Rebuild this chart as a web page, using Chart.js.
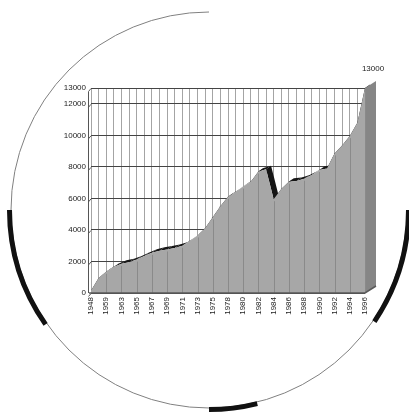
<!DOCTYPE html>
<html>
<head>
<meta charset="utf-8">
<script src="https://cdn.jsdelivr.net/npm/chart.js@4.4.1/dist/chart.umd.min.js"></script>
<style>
  html, body { margin: 0; padding: 0; background: #fff; }
  #wrap { position: relative; width: 409px; height: 416px; }
</style>
</head>
<body>
<div id="wrap"><canvas id="chart"></canvas></div>
<script>
const years = ['1948', '1959', '1963', '1965', '1967', '1969', '1971', '1973', '1975', '1978',
    '1980', '1982', '1984', '1986', '1988', '1990', '1992', '1994', '1996'];

// one value per vertical gridline (two per labelled year)
const values = [150, 950, 1350, 1650, 1850, 1950, 2120, 2350, 2550, 2680,
    2760, 2850, 3000, 3300, 3650, 4100, 4800, 5500, 6100, 6400,
    6750, 7050, 7700, 7850, 5950, 6600, 7050, 7100, 7250, 7480,
    7800, 7900, 8850, 9350, 9950, 10800, 13000];

const yTicks = [0, 2000, 4000, 6000, 8000, 10000, 12000, 13000];
const peakLabel = '13000';

const categories = values.map((v, i) => (i % 2 === 0 ? years[i / 2] : ''));

const FONT = '"Liberation Sans", Arial, sans-serif';

// 3D look: top face, end face, stripes, floor, left wall
const depthPlugin = {
    id: 'depth',
    beforeDatasetsDraw(chart) {
        const ctx = chart.ctx;
        const pts = chart.getDatasetMeta(0).data;
        const base = chart.scales.y.getPixelForValue(0);
        const dx = 5, dy = 3.5;
        ctx.save();
        ctx.fillStyle = '#151515';
        for (let i = 0; i < pts.length - 1; i++) {
            const a = pts[i], b = pts[i + 1];
            ctx.beginPath();
            ctx.moveTo(a.x, a.y);
            ctx.lineTo(b.x, b.y);
            ctx.lineTo(b.x + dx, b.y - dy);
            ctx.lineTo(a.x + dx, a.y - dy);
            ctx.closePath();
            ctx.fill();
        }
        const last = pts[pts.length - 1];
        ctx.fillStyle = '#868686';
        ctx.beginPath();
        ctx.moveTo(last.x, last.y);
        ctx.lineTo(last.x + 11, last.y - 7);
        ctx.lineTo(last.x + 11, base - 7);
        ctx.lineTo(last.x, base);
        ctx.closePath();
        ctx.fill();
        ctx.restore();
    },
    afterDatasetsDraw(chart) {
        const ctx = chart.ctx;
        const pts = chart.getDatasetMeta(0).data;
        const area = chart.chartArea;
        const base = chart.scales.y.getPixelForValue(0);
        ctx.save();
        ctx.strokeStyle = '#8a8a8a';
        ctx.lineWidth = 1;
        pts.forEach((p, i) => {
            if (i % 2 !== 0 || i === 0) return;
            const x = Math.round(p.x) + 0.5;
            ctx.beginPath();
            ctx.moveTo(x, base);
            ctx.lineTo(x, p.y + 2);
            ctx.stroke();
        });

        // floor edge
        ctx.strokeStyle = '#5a5a5a';
        ctx.lineWidth = 1.5;
        ctx.beginPath();
        ctx.moveTo(area.left - 2, base);
        ctx.lineTo(area.right, base);
        ctx.lineTo(area.right + 11, base - 7);
        ctx.stroke();

        // left wall with bent gridline ends
        ctx.strokeStyle = '#555';
        ctx.lineWidth = 1;
        const wx = area.left - 2.5;
        ctx.beginPath();
        ctx.moveTo(wx, area.top + 3.5);
        ctx.lineTo(wx, base);
        chart.scales.y.ticks.forEach(t => {
            const y = chart.scales.y.getPixelForValue(t.value);
            ctx.moveTo(area.left, y + 0.5);
            ctx.lineTo(wx, y + 3.5);
        });
        ctx.stroke();

        // value over the end face
        const last = pts[pts.length - 1];
        ctx.fillStyle = '#222';
        ctx.font = '8px ' + FONT;
        ctx.textAlign = 'center';
        ctx.textBaseline = 'middle';
        ctx.fillText(peakLabel, last.x + 8, last.y - 19);
        ctx.restore();
    },
    afterDraw(chart) {
        const ctx = chart.ctx;
        const cx = 209, cy = 210, r = 198;
        const deg = Math.PI / 180;
        ctx.save();
        ctx.strokeStyle = '#808080';
        ctx.lineWidth = 1;
        ctx.beginPath();
        ctx.arc(cx, cy, r, 0, 270 * deg);
        ctx.stroke();
        ctx.strokeStyle = '#111';
        ctx.lineWidth = 5;
        [[145, 180], [0, 34], [76, 90]].forEach(([s, e]) => {
            ctx.beginPath();
            ctx.arc(cx, cy, r + 1.5, s * deg, e * deg);
            ctx.stroke();
        });
        ctx.restore();
    }
};

function createChart() {
    const ctx = document.getElementById('chart').getContext('2d');
    new Chart(ctx, {
        type: 'line',
        data: {
            labels: categories,
            datasets: [{
                data: values,
                fill: 'origin',
                backgroundColor: '#a7a7a7',
                borderWidth: 0,
                borderColor: 'rgba(0,0,0,0)',
                pointRadius: 0,
                tension: 0
            }]
        },
        options: {
            responsive: true,
            maintainAspectRatio: false,
            animation: false,
            layout: { padding: { top: 88, right: 44, left: 0, bottom: 0 } },
            plugins: {
                legend: { display: false },
                tooltip: { enabled: false }
            },
            scales: {
                x: {
                    offset: false,
                    grid: { color: '#a4a4a4', lineWidth: 1, drawTicks: false },
                    border: { display: false },
                    ticks: {
                        autoSkip: false,
                        maxRotation: 90,
                        minRotation: 90,
                        padding: 4,
                        color: '#222',
                        font: { family: FONT, size: 8 }
                    },
                    afterFit: s => { s.height = 123; }
                },
                y: {
                    min: 0,
                    max: 13000,
                    afterBuildTicks: s => { s.ticks = yTicks.map(v => ({ value: v })); },
                    grid: { color: '#444', lineWidth: 1, drawTicks: false },
                    border: { display: false },
                    ticks: {
                        padding: 5,
                        color: '#222',
                        font: { family: FONT, size: 8 },
                        callback: v => String(v)
                    },
                    afterFit: s => { s.width = 91; }
                }
            }
        },
        plugins: [depthPlugin]
    });
}

createChart();
</script>
</body>
</html>
